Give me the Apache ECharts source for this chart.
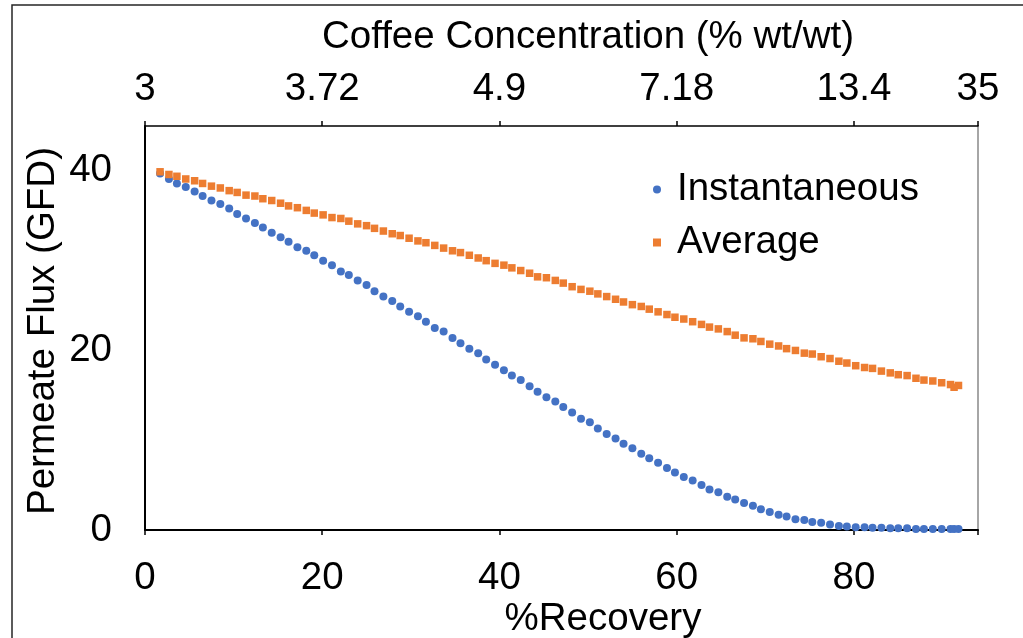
<!DOCTYPE html>
<html>
<head>
<meta charset="utf-8">
<title>Permeate Flux vs Recovery</title>
<script src="https://cdn.jsdelivr.net/npm/echarts@6/dist/echarts.min.js"></script>
<style>
  html, body { margin: 0; padding: 0; background: #fff; }
  #chart { width: 1023px; height: 638px; }
</style>
</head>
<body>
<div id="chart"></div>
<script>
// % recovery of each point
var recovery = [
    1.7, 2.7, 3.6, 4.6, 5.6, 6.5, 7.5, 8.5, 9.5, 10.4,
    11.4, 12.4, 13.3, 14.3, 15.3, 16.2, 17.2, 18.2, 19.1, 20.1,
    21.1, 22.1, 23.0, 24.0, 25.0, 25.9, 26.9, 27.9, 28.8, 29.8,
    30.8, 31.7, 32.7, 33.7, 34.7, 35.6, 36.6, 37.6, 38.5, 39.5,
    40.5, 41.4, 42.4, 43.4, 44.3, 45.3, 46.3, 47.2, 48.2, 49.2,
    50.2, 51.1, 52.1, 53.1, 54.0, 55.0, 56.0, 56.9, 57.9, 58.9,
    59.8, 60.8, 61.8, 62.8, 63.7, 64.7, 65.7, 66.6, 67.6, 68.6,
    69.5, 70.5, 71.5, 72.4, 73.4, 74.4, 75.3, 76.3, 77.3, 78.3,
    79.2, 80.2, 81.2, 82.1, 83.1, 84.1, 85.0, 86.0, 87.0, 87.9,
    88.9, 89.9, 90.9, 91.3, 91.8
];
var instantaneous = [
    39.7, 39.1, 38.6, 38.2, 37.7, 37.2, 36.7, 36.3, 35.8, 35.2,
    34.7, 34.2, 33.7, 33.1, 32.6, 32.1, 31.5, 31.1, 30.6, 30.0,
    29.5, 28.8, 28.4, 27.8, 27.3, 26.6, 26.0, 25.5, 24.9, 24.3,
    23.8, 23.2, 22.5, 22.1, 21.4, 20.8, 20.2, 19.7, 19.0, 18.4,
    17.8, 17.2, 16.7, 16.0, 15.4, 14.8, 14.3, 13.7, 13.1, 12.4,
    12.0, 11.3, 10.7, 10.2, 9.6, 9.1, 8.5, 8.0, 7.5, 6.9,
    6.4, 5.9, 5.5, 5.0, 4.5, 4.2, 3.7, 3.4, 3.0, 2.7,
    2.3, 2.0, 1.7, 1.5, 1.2, 1.1, 0.9, 0.8, 0.6, 0.45,
    0.4, 0.3, 0.3, 0.25, 0.25, 0.2, 0.2, 0.2, 0.1, 0.1,
    0.1, 0.1, 0.1, 0.1, 0.1
];
var average = [
    39.9, 39.6, 39.4, 39.1, 38.9, 38.6, 38.3, 38.1, 37.8, 37.6,
    37.3, 37.2, 36.9, 36.7, 36.4, 36.1, 35.9, 35.6, 35.3, 35.1,
    34.8, 34.7, 34.4, 34.1, 33.9, 33.6, 33.3, 33.0, 32.8, 32.5,
    32.2, 32.0, 31.7, 31.4, 31.1, 30.9, 30.6, 30.3, 30.0, 29.7,
    29.5, 29.2, 28.9, 28.6, 28.2, 28.1, 27.8, 27.5, 27.1, 26.8,
    26.6, 26.3, 26.0, 25.7, 25.4, 25.1, 24.9, 24.6, 24.3, 24.0,
    23.7, 23.5, 23.2, 22.9, 22.6, 22.4, 22.1, 21.7, 21.4, 21.3,
    21.0, 20.7, 20.5, 20.2, 20.0, 19.7, 19.6, 19.3, 19.1, 18.8,
    18.6, 18.3, 18.1, 18.0, 17.7, 17.5, 17.3, 17.2, 16.9, 16.7,
    16.6, 16.4, 16.2, 15.9, 16.1
];
// top axis: coffee concentration at the recovery ticks
var topTickValues = [0, 20, 40, 60, 80, 94];
var topTickLabels = ['3', '3.72', '4.9', '7.18', '13.4', '35'];

var FONT = "'Liberation Sans', Arial, sans-serif";
var FS = 38.5;

function pairs(xs, ys) {
    var out = [];
    for (var i = 0; i < xs.length; i++) out.push([xs[i], ys[i]]);
    return out;
}

var topLabel = function (v) {
    for (var i = 0; i < topTickValues.length; i++) {
        if (Math.abs(topTickValues[i] - v) < 0.01) return topTickLabels[i];
    }
    return '';
};

var option = {
    animation: false,
    backgroundColor: '#fff',
    grid: { left: 145, right: 45, top: 126, bottom: 108 },
    textStyle: { fontFamily: FONT },
    legend: {
        orient: 'vertical',
        left: 653,
        top: 170,
        padding: 0,
        itemGap: 14,
        itemWidth: 8,
        itemHeight: 8,
        textStyle: { fontSize: FS, color: '#000', fontFamily: FONT, padding: [0, 0, 0, 11] },
        data: [
            { name: 'Instantaneous', icon: 'circle' },
            { name: 'Average', icon: 'rect' }
        ]
    },
    xAxis: [{
        type: 'value',
        position: 'bottom',
        min: 0,
        max: 94,
        interval: 20,
        axisLine: { show: true, onZero: false, lineStyle: { color: '#000', width: 2 } },
        axisTick: { show: false },
        splitLine: { show: false },
        axisLabel: { fontSize: FS, color: '#000', margin: 29, showMaxLabel: false, fontFamily: FONT }
    }, {
        type: 'value',
        position: 'top',
        min: 0,
        max: 94,
        interval: 20,
        axisLine: { show: true, onZero: false, lineStyle: { color: '#000', width: 1.5 } },
        axisTick: { show: true, length: 5, lineStyle: { color: '#000', width: 1.5 } },
        splitLine: { show: false },
        axisLabel: { fontSize: FS, color: '#000', margin: 17, showMaxLabel: true, fontFamily: FONT, formatter: topLabel }
    }, {
        // inner half of the crossing tick marks
        type: 'value',
        position: 'top',
        min: 0,
        max: 94,
        interval: 20,
        axisLine: { show: false },
        axisTick: { show: true, inside: true, length: 5, lineStyle: { color: '#000', width: 1.5 } },
        splitLine: { show: false },
        axisLabel: { show: false }
    }],
    yAxis: [{
        type: 'value',
        min: 0,
        max: 45,
        interval: 20,
        axisLine: { show: true, onZero: false, lineStyle: { color: '#000', width: 2 } },
        axisTick: { show: false },
        splitLine: { show: false },
        axisLabel: { fontSize: FS, color: '#000', margin: 33, showMaxLabel: false, fontFamily: FONT }
    }, {
        type: 'value',
        position: 'right',
        min: 0,
        max: 45,
        interval: 20,
        axisLine: { show: true, onZero: false, lineStyle: { color: '#a6a6a6', width: 2 } },
        axisTick: { show: false },
        splitLine: { show: false },
        axisLabel: { show: false }
    }],
    series: [{
        name: 'Instantaneous',
        type: 'scatter',
        symbol: 'circle',
        symbolSize: 8,
        itemStyle: { color: '#4472c4', opacity: 1 },
        data: pairs(recovery, instantaneous)
    }, {
        name: 'Average',
        type: 'scatter',
        symbol: 'rect',
        symbolSize: 7.5,
        itemStyle: { color: '#ed7d31', opacity: 1 },
        data: pairs(recovery, average)
    }],
    graphic: [{
        type: 'rect',
        shape: { x: 12, y: 5, width: 1100, height: 700 },
        style: { fill: 'none', stroke: '#262626', lineWidth: 1.5 },
        silent: true
    }, {
        type: 'text',
        x: 588,
        y: 37,
        style: { text: 'Coffee Concentration (% wt/wt)', fontSize: FS, fontFamily: FONT, fill: '#000', align: 'center', verticalAlign: 'middle' }
    }, {
        type: 'text',
        x: 603,
        y: 619,
        style: { text: '%Recovery', fontSize: FS, fontFamily: FONT, fill: '#000', align: 'center', verticalAlign: 'middle' }
    }, {
        type: 'text',
        x: 43,
        y: 331,
        rotation: Math.PI / 2,
        style: { text: 'Permeate Flux (GFD)', fontSize: FS, fontFamily: FONT, fill: '#000', align: 'center', verticalAlign: 'middle' }
    }]
};

var myChart = echarts.init(document.getElementById('chart'));
myChart.setOption(option, true);
</script>
</body>
</html>
